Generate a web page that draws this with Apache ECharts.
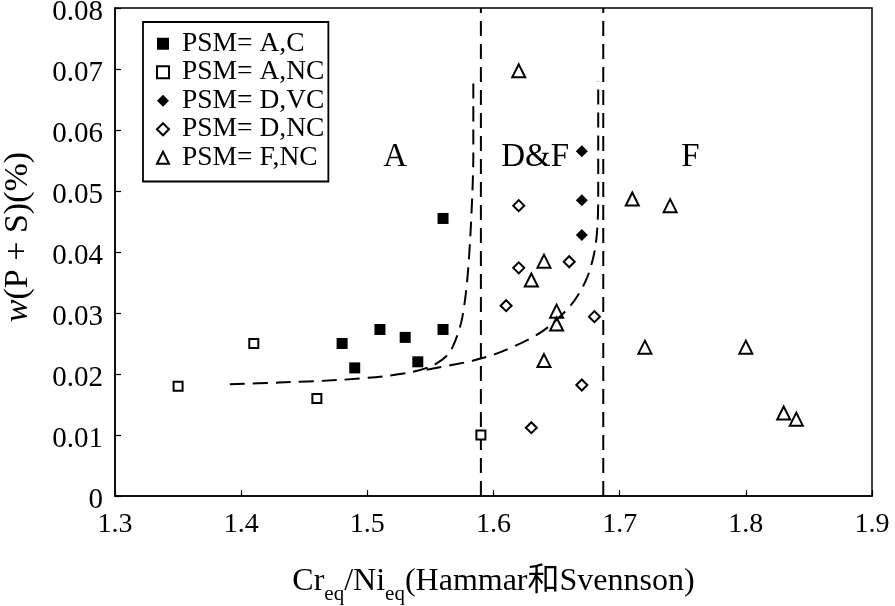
<!DOCTYPE html>
<html><head><meta charset="utf-8">
<script src="https://cdn.jsdelivr.net/npm/echarts@6/dist/echarts.min.js"></script>
<style>html,body{margin:0;padding:0;background:#fff}#c{width:895px;height:606px}</style>
</head><body><div id="c"></div>
<script>
// ---- data ----
const seriesNames = ['PSM= A,C', 'PSM= A,NC', 'PSM= D,VC', 'PSM= D,NC', 'PSM= F,NC'];
const acX = [1.48, 1.49, 1.51, 1.53, 1.54, 1.56, 1.56];
const acY = [0.025, 0.021, 0.0273, 0.026, 0.022, 0.0273, 0.0455];
const ancX = [1.35, 1.41, 1.46, 1.59];
const ancY = [0.018, 0.025, 0.016, 0.010];
const dvcX = [1.67, 1.67, 1.67];
const dvcY = [0.0565, 0.0485, 0.0428];
const dncX = [1.62, 1.62, 1.66, 1.61, 1.68, 1.67, 1.63];
const dncY = [0.0476, 0.0374, 0.0384, 0.0312, 0.0294, 0.0182, 0.0112];
const fncX = [1.62, 1.64, 1.63, 1.65, 1.65, 1.64, 1.71, 1.74, 1.72, 1.80, 1.83, 1.84];
const fncY = [0.0697, 0.0385, 0.0354, 0.0303, 0.0282, 0.0222, 0.0487, 0.0476, 0.0244, 0.0244, 0.0136, 0.0126];
const boundaryX = [1.59, 1.687];
const curveAX = [1.391, 1.43, 1.476, 1.512, 1.535, 1.552, 1.564, 1.570, 1.575, 1.579, 1.582, 1.584, 1.584];
const curveAY = [0.0183, 0.0186, 0.0190, 0.0196, 0.0203, 0.0214, 0.0232, 0.0256, 0.0290, 0.0350, 0.0440, 0.0560, 0.0680];
const curveBX = [1.547, 1.584, 1.607, 1.638, 1.661, 1.674, 1.681, 1.683, 1.683];
const curveBY = [0.0207, 0.0222, 0.0237, 0.0269, 0.0312, 0.0357, 0.0412, 0.0490, 0.0680];
const regionNames = ['A', 'D&F', 'F'];
const regionX = [1.522, 1.633, 1.756];
const regionY = [0.0556, 0.0556, 0.0556];
const xMin = 1.3, xMax = 1.9, xStep = 0.1;
const yMin = 0, yMax = 0.08, yStep = 0.01;

const zip = (xs, ys) => xs.map((x, i) => [x, ys[i]]);
const serif = '"Liberation Serif", "Times New Roman", "Noto Sans CJK SC", serif';
const K = '#000';

const chart = echarts.init(document.getElementById('c'), null, {renderer: 'canvas'});
const dash = {color: K, width: 2, type: [15, 8]};

const option = {
  backgroundColor: '#fff',
  animation: false,
  textStyle: {fontFamily: serif, color: K},
  grid: {left: 115, right: 23, top: 8, bottom: 110, show: true, borderColor: K, borderWidth: 1.5,
         backgroundColor: 'transparent', containLabel: false, outerBoundsMode: 'none'},
  legend: {
    data: seriesNames,
    orient: 'vertical', left: 143, top: 22,
    itemWidth: 12, itemHeight: 12, itemGap: 1,
    padding: [8, 4, 10, 13],
    borderColor: K, borderWidth: 1.8,
    textStyle: {fontFamily: serif, fontSize: 27.5, color: K, padding: [0, 0, 0, 8]}
  },
  xAxis: {
    type: 'value', min: xMin, max: xMax, interval: xStep,
    name: '{r|Cr}{s|eq}{r|/Ni}{s|eq}{r|(Hammar和Svennson)}',
    nameLocation: 'middle', nameGap: 62,
    nameTextStyle: {rich: {
      r: {fontFamily: serif, fontSize: 32, color: K, lineHeight: 40, verticalAlign: 'bottom'},
      s: {fontFamily: serif, fontSize: 21, color: K, lineHeight: 40, verticalAlign: 'bottom', padding: [0, 0, -7, 0]}
    }},
    axisLine: {show: true, lineStyle: {color: K, width: 1.5}},
    axisTick: {show: true, inside: true, length: 6, lineStyle: {color: K, width: 1.2}},
    axisLabel: {fontFamily: serif, fontSize: 28, color: K, margin: 15, formatter: v => v.toFixed(1)},
    splitLine: {show: false}
  },
  yAxis: {
    type: 'value', min: yMin, max: yMax, interval: yStep,
    name: '{i|w}{r|(P + S)(%)}',
    nameLocation: 'middle', nameGap: 80,
    nameTextStyle: {padding: [0, 0, 0, 30], rich: {
      i: {fontFamily: serif, fontSize: 34, color: K, fontStyle: 'italic'},
      r: {fontFamily: serif, fontSize: 34, color: K}
    }},
    axisLine: {show: true, lineStyle: {color: K, width: 1.5}},
    axisTick: {show: true, inside: true, length: 6, lineStyle: {color: K, width: 1.2}},
    axisLabel: {fontFamily: serif, fontSize: 29, color: K, margin: 12, verticalAlign: 'top', lineHeight: 8,
                formatter: v => v === 0 ? '0' : v.toFixed(2)},
    splitLine: {show: false}
  },
  series: [
    {name: seriesNames[0], type: 'scatter', symbol: 'rect', symbolSize: 11, data: zip(acX, acY),
     itemStyle: {color: K, opacity: 1}, z: 5},
    {name: seriesNames[1], type: 'scatter', symbol: 'rect', symbolSize: 9, data: zip(ancX, ancY),
     itemStyle: {color: '#fff', borderColor: K, borderWidth: 2, opacity: 1}, z: 5},
    {name: seriesNames[2], type: 'scatter', symbol: 'diamond', symbolSize: 12, data: zip(dvcX, dvcY),
     itemStyle: {color: K, opacity: 1}, z: 5},
    {name: seriesNames[3], type: 'scatter', symbol: 'diamond', symbolSize: 11, data: zip(dncX, dncY),
     itemStyle: {color: '#fff', borderColor: K, borderWidth: 2, opacity: 1}, z: 5},
    {name: seriesNames[4], type: 'scatter', symbol: 'triangle', symbolSize: 13, data: zip(fncX, fncY),
     itemStyle: {color: 'rgba(255,255,255,0)', borderColor: K, borderWidth: 2, opacity: 1}, z: 5},
    {type: 'line', data: [[boundaryX[0], yMin], [boundaryX[0], yMax]], symbol: 'none', lineStyle: dash, silent: true},
    {type: 'line', data: [[boundaryX[1], yMin], [boundaryX[1], yMax]], symbol: 'none', lineStyle: dash, silent: true},
    {type: 'line', data: zip(curveAX, curveAY), symbol: 'none', smooth: 0.3, lineStyle: dash, silent: true},
    {type: 'line', data: zip(curveBX, curveBY), symbol: 'none', smooth: 0.3, lineStyle: dash, silent: true},
    {type: 'scatter', symbolSize: 0, silent: true, itemStyle: {opacity: 1},
     data: regionNames.map((n, i) => ({name: n, value: [regionX[i], regionY[i]]})),
     label: {show: true, position: 'inside', formatter: '{b}', fontFamily: serif, fontSize: 33, color: K, opacity: 1}}
  ]
};
chart.setOption(option);
</script></body></html>
